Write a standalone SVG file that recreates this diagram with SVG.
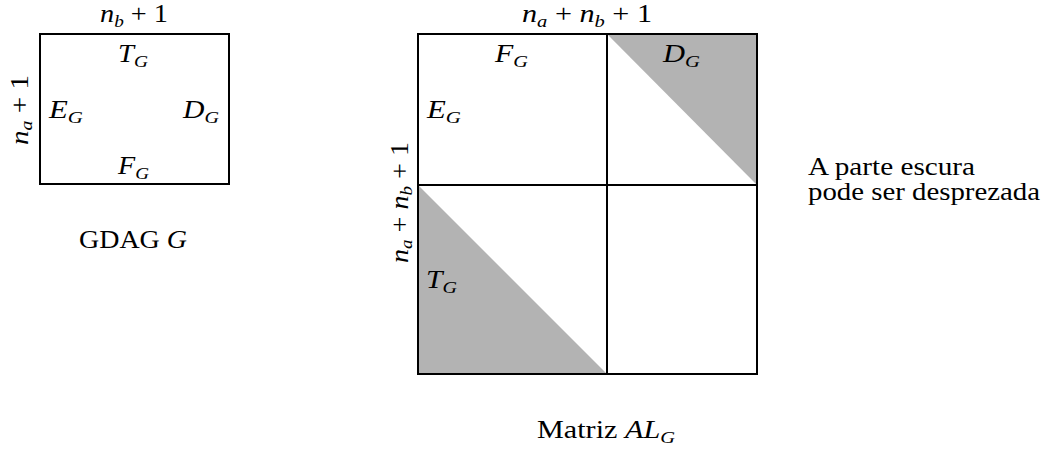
<svg xmlns="http://www.w3.org/2000/svg" width="1049" height="450" viewBox="0 0 1049 450">
<style>
text{font-family:"Liberation Serif","DejaVu Serif",serif;font-size:25px;fill:#000}
.i{font-style:italic}
.s{font-size:17px;font-style:italic}
.box{fill:none;stroke:#000;stroke-width:2}
.shade{fill:#b3b3b3;stroke:none}
</style>
<rect width="1049" height="450" fill="#fff"/>
<g id="gdag">
<rect class="box" x="40" y="34" width="189" height="150"/>
<text x="100" y="22" textLength="68" lengthAdjust="spacingAndGlyphs"><tspan class="i">n</tspan><tspan class="s" dy="5">b</tspan><tspan dy="-5"> + 1</tspan></text>
<text transform="translate(28,145) rotate(-90)" textLength="70" lengthAdjust="spacingAndGlyphs"><tspan class="i">n</tspan><tspan class="s" dy="4">a</tspan><tspan dy="-4"> + 1</tspan></text>
<text x="118" y="62" class="i" textLength="30" lengthAdjust="spacingAndGlyphs">T<tspan class="s" dy="5">G</tspan></text>
<text x="49" y="118" class="i" textLength="34" lengthAdjust="spacingAndGlyphs">E<tspan class="s" dy="5">G</tspan></text>
<text x="183" y="118" class="i" textLength="36" lengthAdjust="spacingAndGlyphs">D<tspan class="s" dy="5">G</tspan></text>
<text x="118" y="174" class="i" textLength="31" lengthAdjust="spacingAndGlyphs">F<tspan class="s" dy="5">G</tspan></text>
<text x="79" y="248" textLength="108" lengthAdjust="spacingAndGlyphs">GDAG <tspan class="i">G</tspan></text>
</g>
<g id="matriz">
<polygon class="shade" points="607,34 757,34 757,185"/>
<polygon class="shade" points="418,185 418,374 607,374"/>
<rect class="box" x="418" y="34" width="339" height="340"/>
<line class="box" x1="607" y1="34" x2="607" y2="374"/>
<line class="box" x1="418" y1="185" x2="757" y2="185"/>
<text x="522" y="22" textLength="130" lengthAdjust="spacingAndGlyphs"><tspan class="i">n</tspan><tspan class="s" dy="5">a</tspan><tspan dy="-5"> + </tspan><tspan class="i">n</tspan><tspan class="s" dy="5">b</tspan><tspan dy="-5"> + 1</tspan></text>
<text transform="translate(408,263) rotate(-90)" textLength="121" lengthAdjust="spacingAndGlyphs"><tspan class="i">n</tspan><tspan class="s" dy="4">a</tspan><tspan dy="-4"> + </tspan><tspan class="i">n</tspan><tspan class="s" dy="4">b</tspan><tspan dy="-4"> + 1</tspan></text>
<text x="495" y="62" class="i" textLength="33" lengthAdjust="spacingAndGlyphs">F<tspan class="s" dy="5">G</tspan></text>
<text x="663" y="62" class="i" textLength="37" lengthAdjust="spacingAndGlyphs">D<tspan class="s" dy="5">G</tspan></text>
<text x="427" y="118" class="i" textLength="34" lengthAdjust="spacingAndGlyphs">E<tspan class="s" dy="5">G</tspan></text>
<text x="426" y="288" class="i" textLength="31" lengthAdjust="spacingAndGlyphs">T<tspan class="s" dy="5">G</tspan></text>
<text x="537" y="438" textLength="138" lengthAdjust="spacingAndGlyphs">Matriz <tspan class="i">AL</tspan><tspan class="s" dy="5">G</tspan></text>
</g>
<g id="nota">
<text x="808" y="175" textLength="167" lengthAdjust="spacingAndGlyphs">A parte escura</text>
<text x="808" y="200" textLength="232" lengthAdjust="spacingAndGlyphs">pode ser desprezada</text>
</g>
</svg>
